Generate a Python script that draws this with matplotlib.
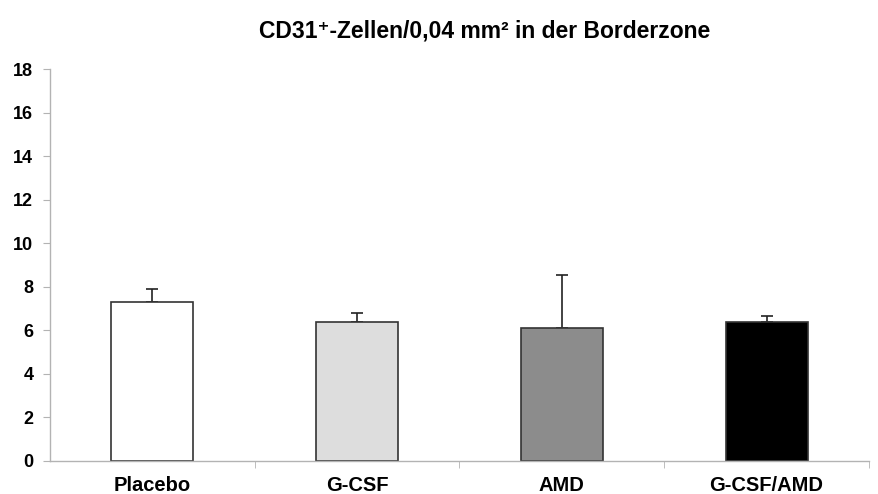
import numpy as np
import matplotlib.pyplot as plt

plt.rcParams['font.family'] = ['Liberation Sans', 'DejaVu Sans']
plt.rcParams['font.weight'] = 'bold'

groups = ['Placebo', 'G-CSF', 'AMD', 'G-CSF/AMD']
means = [7.28, 6.39, 6.10, 6.36]
errors = [0.60, 0.40, 2.42, 0.28]
fill_colors = ['#ffffff', '#dddddd', '#8c8c8c', '#000000']
y_ticks = [0, 2, 4, 6, 8, 10, 12, 14, 16, 18]

fig = plt.figure(figsize=(8.79, 4.94), dpi=100)
ax = fig.add_axes([50 / 879, 33.3 / 494, 819 / 879, 391.7 / 494])

x = np.arange(len(groups))
ax.bar(x, means, width=0.4, color=fill_colors, edgecolor='#333333', linewidth=1.2, zorder=2)
ax.errorbar(x, means, yerr=[np.zeros(len(errors)), errors], fmt='none',
            ecolor='#222222', elinewidth=1.2, capsize=4, capthick=1.2, zorder=1)

ax.set_xlim(-0.5, 3.392)
ax.set_ylim(0, 18)
ax.set_yticks(y_ticks)
ax.set_xticks(x)
ax.set_xticklabels(groups)
ax.set_xticks(np.arange(len(groups)) + 0.5, minor=True)

for side in ('top', 'right'):
    ax.spines[side].set_visible(False)
for side in ('left', 'bottom'):
    ax.spines[side].set_color('#b3b3b3')
    ax.spines[side].set_linewidth(1.0)

ax.tick_params(axis='y', direction='out', length=5, color='#b3b3b3', pad=7, labelsize=13)
ax.tick_params(axis='x', which='major', length=0, pad=11, labelsize=14.5)
ax.tick_params(axis='x', which='minor', direction='out', length=5, color='#b3b3b3')

fig.text(485 / 879, 1 - 31 / 494, 'CD31\u207a-Zellen/0,04 mm\u00b2 in der Borderzone',
         ha='center', va='center', fontsize=16.5, fontweight='bold')

fig.savefig('out.png', dpi=100)
